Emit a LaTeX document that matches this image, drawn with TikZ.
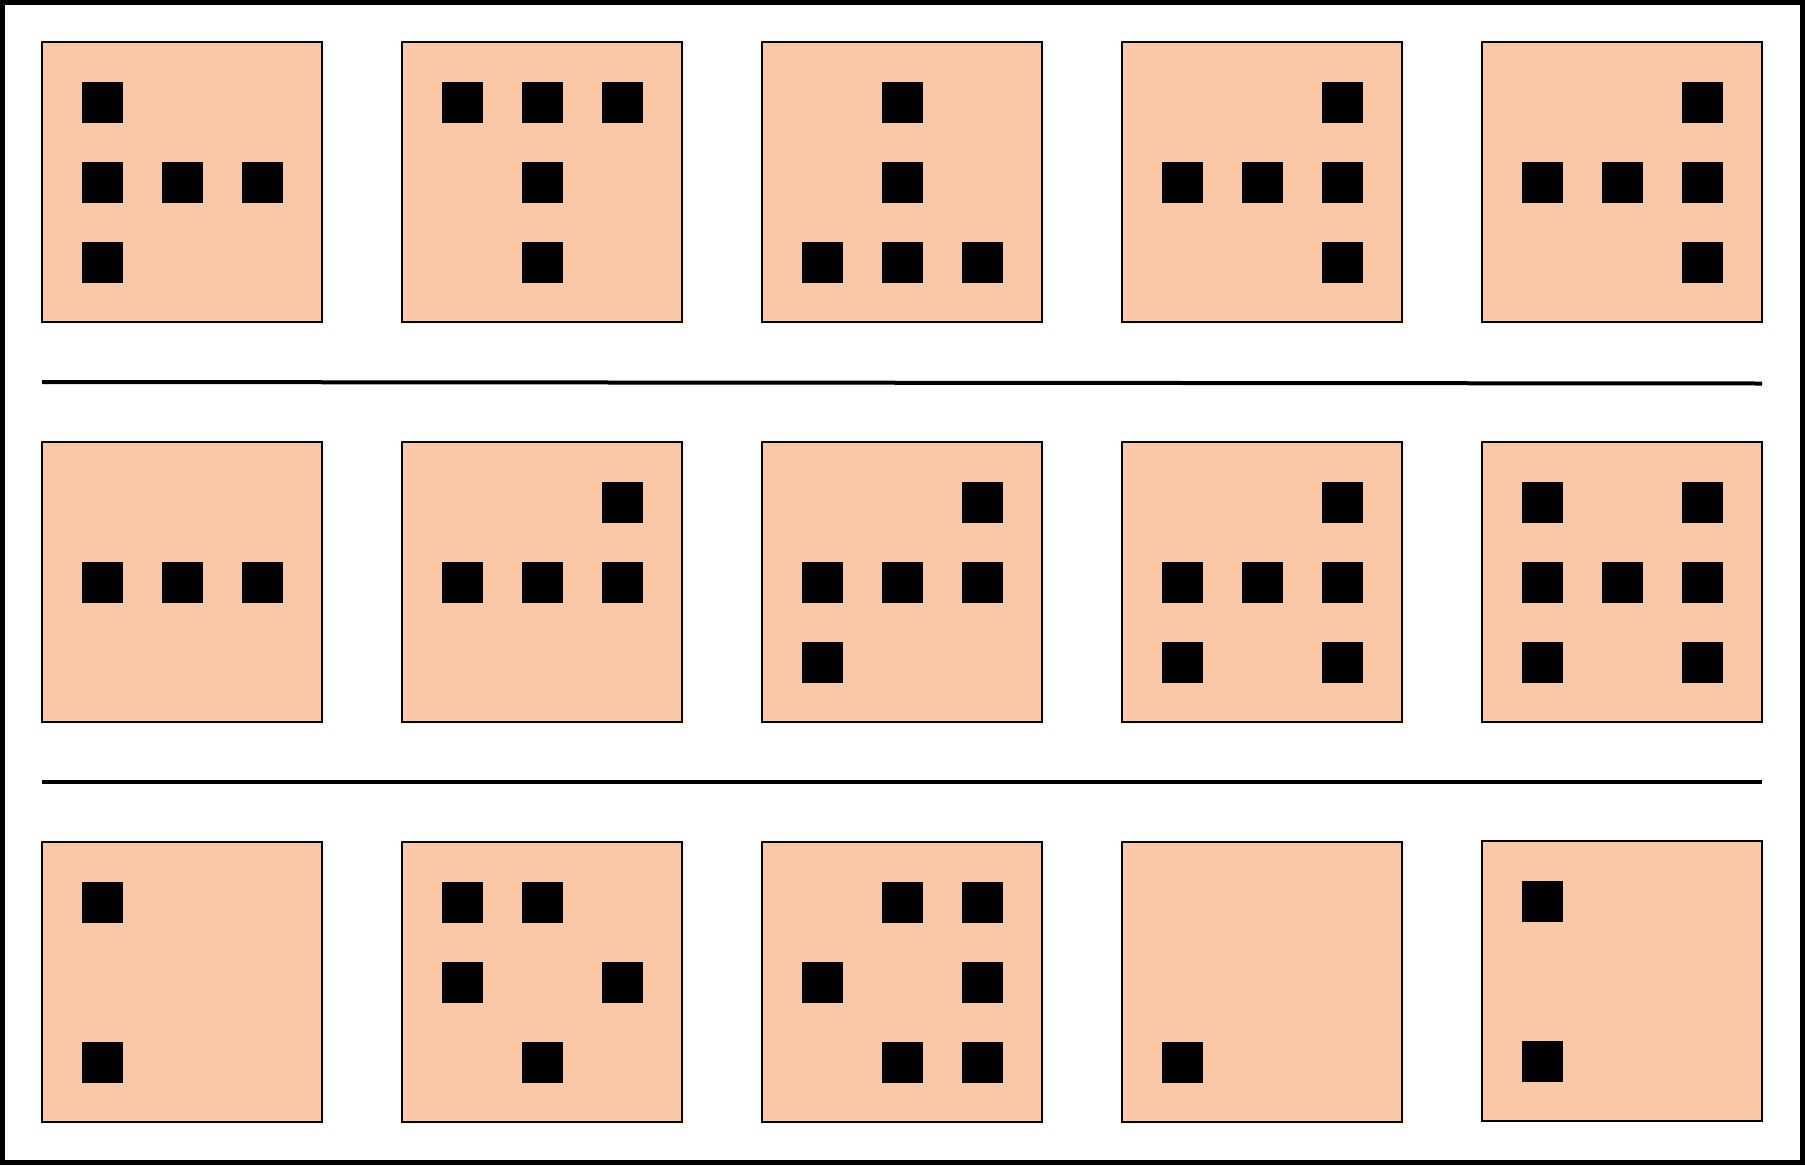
\documentclass[tikz,border=0pt]{standalone}
\definecolor{peach}{RGB}{250,200,165}
\newcommand\tileat[3]{%
  \draw[tile] (#1,#2) rectangle ++(280,280);
  \foreach \c/\r in {#3} {\fill[dot] (#1+40+80*\c,#2+40+80*\r) rectangle ++(41,41);}
}
\begin{document}
\begin{tikzpicture}[x=1pt,y=-1pt,
  tile/.style={draw=black,line width=2.7pt,fill=peach},
  dot/.style={fill=black},
  sep/.style={draw=black,line width=4pt}]
\useasboundingbox (0,0) rectangle (1805,1165);
\draw[line width=4.7pt] (2.35,2.35) rectangle (1802.65,1162.65);
% row 1
\tileat{42}{42}{0/0,0/1,1/1,2/1,0/2}
\tileat{402}{42}{0/0,1/0,2/0,1/1,1/2}
\tileat{762}{42}{1/0,1/1,0/2,1/2,2/2}
\tileat{1122}{42}{2/0,0/1,1/1,2/1,2/2}
\tileat{1482}{42}{2/0,0/1,1/1,2/1,2/2}
% separator
\coordinate (s1a) at (42,382);
\coordinate (s1b) at (1762,383.5);
\draw[sep] (s1a) -- (s1b);
% row 2
\tileat{42}{442}{0/1,1/1,2/1}
\tileat{402}{442}{2/0,0/1,1/1,2/1}
\tileat{762}{442}{2/0,0/1,1/1,2/1,0/2}
\tileat{1122}{442}{2/0,0/1,1/1,2/1,0/2,2/2}
\tileat{1482}{442}{0/0,2/0,0/1,1/1,2/1,0/2,2/2}
% separator
\coordinate (s2a) at (42,781.5);
\coordinate (s2b) at (1762,781.5);
\draw[sep] (s2a) -- (s2b);
% row 3
\tileat{42}{842}{0/0,0/2}
\tileat{402}{842}{0/0,1/0,0/1,2/1,1/2}
\tileat{762}{842}{1/0,2/0,0/1,2/1,1/2,2/2}
\tileat{1122}{842}{0/2}
\tileat{1482}{841}{0/0,0/2}
\end{tikzpicture}
\end{document}
